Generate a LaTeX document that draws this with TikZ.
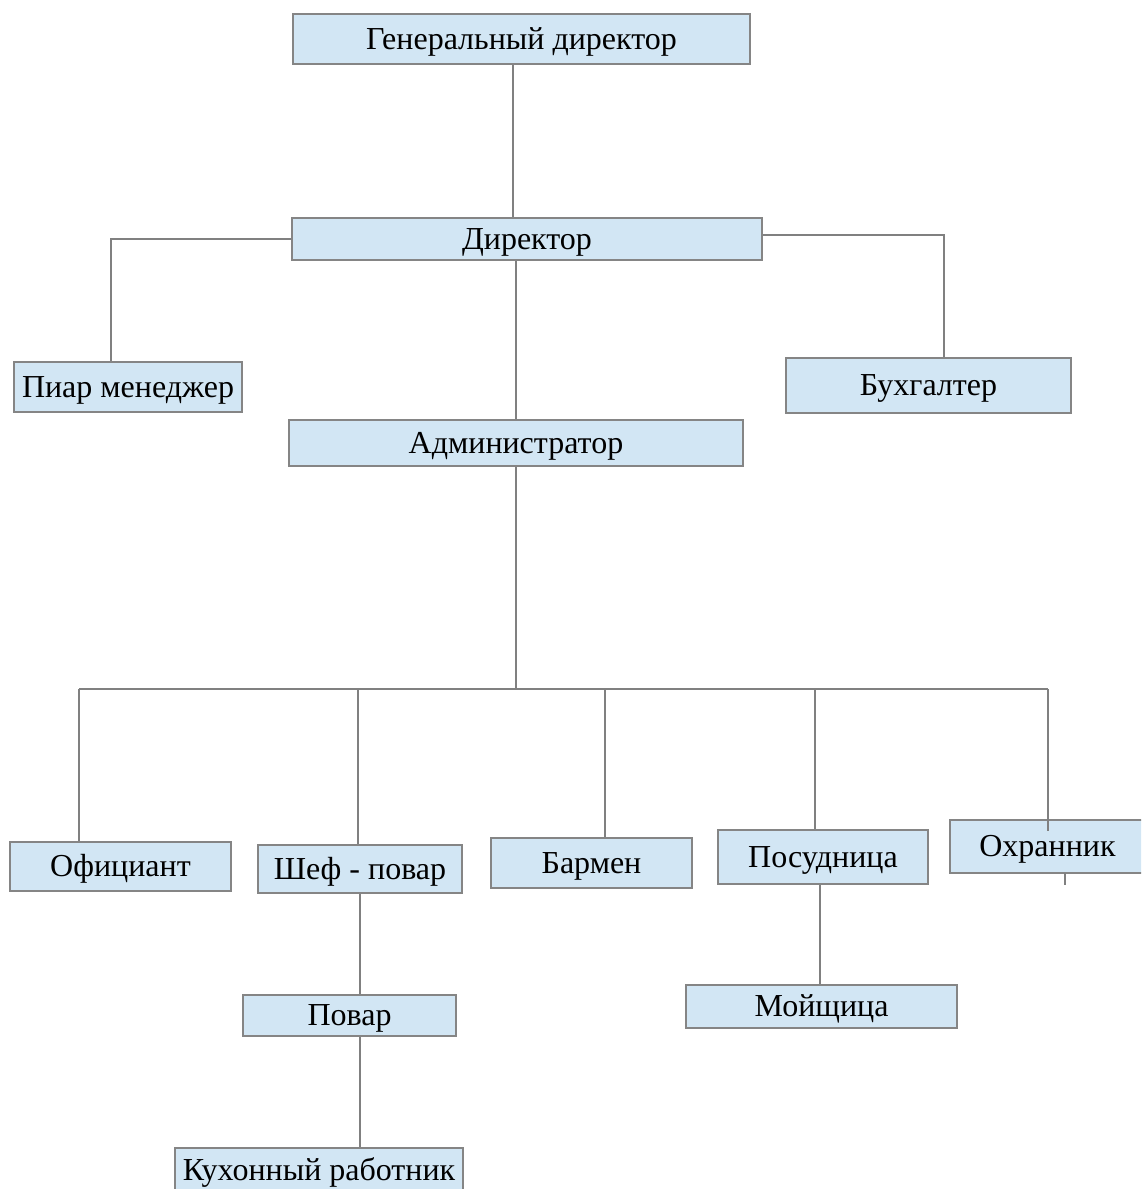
\documentclass[tikz,border=0pt]{standalone}
\usepackage{fontspec}
\setmainfont{Liberation Serif}
\definecolor{boxfill}{HTML}{D2E6F4}
\definecolor{boxline}{HTML}{858585}
\definecolor{conline}{HTML}{808080}
\begin{document}
\begin{tikzpicture}[x=1pt,y=-1pt,
  box/.style={draw=boxline,line width=2pt,fill=boxfill,inner sep=0pt,
    text height=24pt,text depth=4pt,
    font=\fontsize{32}{34}\selectfont,text=black,align=center},
  con/.style={draw=conline,line width=1.8pt}]
\useasboundingbox (0,0) rectangle (1141,1189);
\clip (0,0) rectangle (1141,1189);
% boxes
\node[box,minimum width=457pt,minimum height=50pt] (gd) at (521.5,39) {Генеральный директор};
\node[box,minimum width=470pt,minimum height=42pt] (dir) at (527,239) {Директор};
\node[box,minimum width=228pt,minimum height=50pt] (pr) at (128,387) {Пиар менеджер};
\node[box,minimum width=285pt,minimum height=55pt] (buh) at (928.5,385.5) {Бухгалтер};
\node[box,minimum width=454pt,minimum height=46pt] (adm) at (516,443) {Администратор};
\node[box,minimum width=221pt,minimum height=49pt] (of) at (120.5,866.5) {Официант};
\node[box,minimum width=204pt,minimum height=48pt] (shef) at (360,869) {Шеф - повар};
\node[box,minimum width=201pt,minimum height=50pt] (bar) at (591.5,863) {Бармен};
\node[box,minimum width=210pt,minimum height=54pt] (pos) at (823,857) {Посудница};
\node[box,minimum width=195pt,minimum height=53pt] (ohr) at (1047.5,846.5) {Охранник};
\node[box,minimum width=213pt,minimum height=41pt] (pov) at (349.5,1015.5) {Повар};
\node[box,minimum width=288pt,minimum height=45pt] (kuh) at (319,1170.5) {Кухонный работник};
\node[box,minimum width=271pt,minimum height=43pt] (moy) at (821.5,1006.5) {Мойщица};
% connector helper coordinates
\coordinate (c0) at (513,0);
\coordinate (cl) at (111,239);
\coordinate (cr) at (944,235);
\coordinate (ca) at (516,0);
\coordinate (bus) at (516,689);
\coordinate (b1) at (79,689);
\coordinate (b2) at (358,689);
\coordinate (b3) at (605,689);
\coordinate (b4) at (815,689);
\coordinate (b5) at (1048,689);
\coordinate (b5e) at (1048,831);
\coordinate (tk1) at (1065,873);
\coordinate (tk2) at (1065,885);
\coordinate (ck) at (360,0);
\coordinate (cm) at (820,0);
% connectors
\draw[con] (c0 |- gd.south) -- (c0 |- dir.north);
\draw[con] (dir.west |- cl) -- (cl) -- (cl |- pr.north);
\draw[con] (dir.east |- cr) -- (cr) -- (cr |- buh.north);
\draw[con] (ca |- dir.south) -- (ca |- adm.north);
\draw[con] (ca |- adm.south) -- (bus);
\draw[con] (b1) -- (b5);
\draw[con] (b1) -- (b1 |- of.north);
\draw[con] (b2) -- (b2 |- shef.north);
\draw[con] (b3) -- (b3 |- bar.north);
\draw[con] (b4) -- (b4 |- pos.north);
\draw[con] (b5) -- (b5e);
\draw[con] (tk1) -- (tk2);
\draw[con] (ck |- shef.south) -- (ck |- pov.north);
\draw[con] (ck |- pov.south) -- (ck |- kuh.north);
\draw[con] (cm |- pos.south) -- (cm |- moy.north);
\end{tikzpicture}
\end{document}
